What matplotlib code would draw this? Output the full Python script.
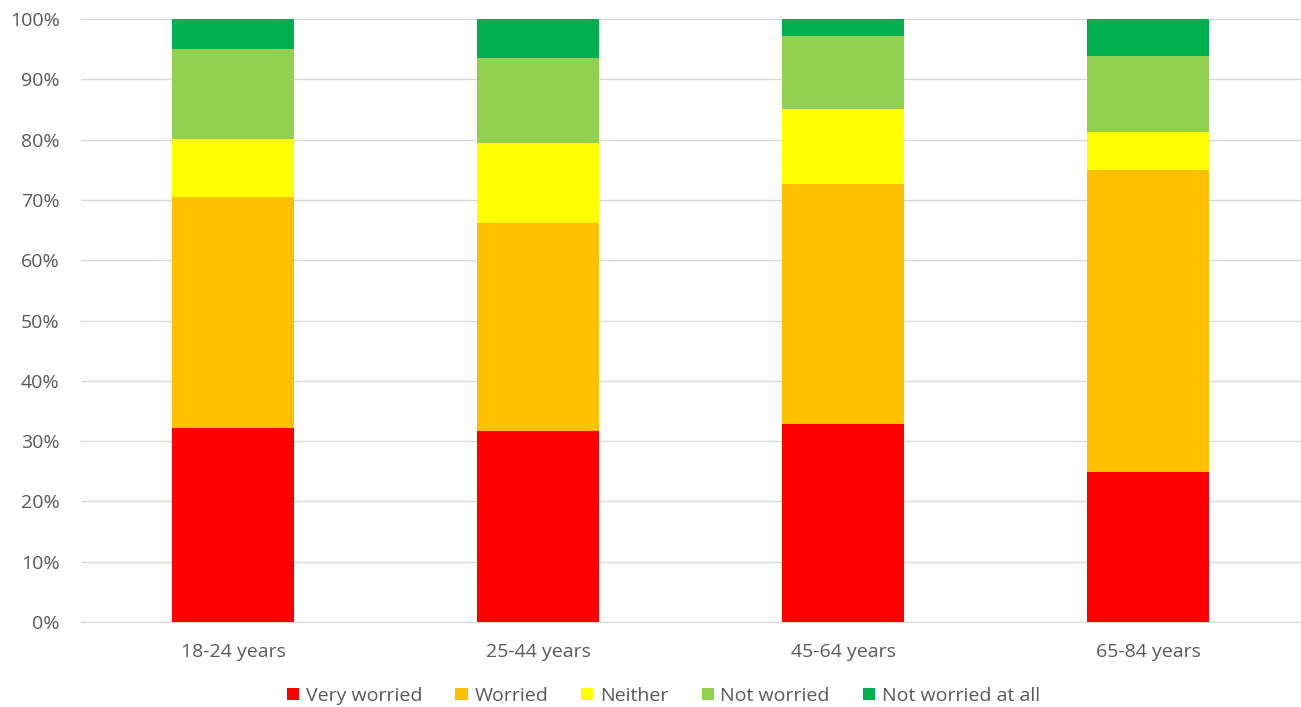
import matplotlib
matplotlib.use("Agg")
import matplotlib.pyplot as plt
import numpy as np
from matplotlib.ticker import PercentFormatter

categories = ["18-24 years", "25-44 years", "45-64 years", "65-84 years"]
series_names = ["Very worried", "Worried", "Neither", "Not worried", "Not worried at all"]
very_worried = [32.2, 31.7, 32.9, 24.9]
worried = [38.2, 34.4, 39.7, 50.1]
neither = [9.75, 13.3, 12.5, 6.2]
not_worried = [14.8, 14.1, 12.0, 12.6]
not_worried_at_all = [5.05, 6.5, 2.9, 6.2]
colors = ["#FF0000", "#FFC000", "#FFFF00", "#92D050", "#00B050"]

plt.rcParams["font.family"] = ["Open Sans", "DejaVu Sans"]
text_color = "#595959"

fig = plt.figure(figsize=(13.01, 7.07), dpi=100)
ax = fig.add_axes([80.5 / 1301, 1 - 622 / 707, 1220 / 1301, 603 / 707])

x = np.arange(len(categories))
bottom = np.zeros(len(categories))
for name, vals, c in zip(series_names,
                         [very_worried, worried, neither, not_worried, not_worried_at_all],
                         colors):
    ax.bar(x, vals, width=0.397, bottom=bottom, color=c, label=name, zorder=3)
    bottom += np.array(vals)

ax.set_xlim(-0.5, len(categories) - 0.5)
ax.set_ylim(0, 100)
ax.set_yticks(np.arange(0, 101, 10))
ax.yaxis.set_major_formatter(PercentFormatter(decimals=0))
ax.set_xticks(x)
ax.set_xticklabels(categories)
ax.grid(axis="y", color="#d9d9d9", linewidth=1, zorder=0)
for s in ["top", "right", "left"]:
    ax.spines[s].set_visible(False)
ax.spines["bottom"].set_color("#d9d9d9")
ax.tick_params(axis="both", length=0, colors=text_color, labelsize=14)
ax.tick_params(axis="x", pad=15)
ax.tick_params(axis="y", pad=15)

fig.legend(loc="center", bbox_to_anchor=(663.5 / 1301, 1 - 696 / 707), ncol=5,
           frameon=False, fontsize=14, labelcolor=text_color,
           handlelength=0.62, handleheight=0.62, handletextpad=0.35, columnspacing=1.7)

fig.savefig("out.png", dpi=100)
